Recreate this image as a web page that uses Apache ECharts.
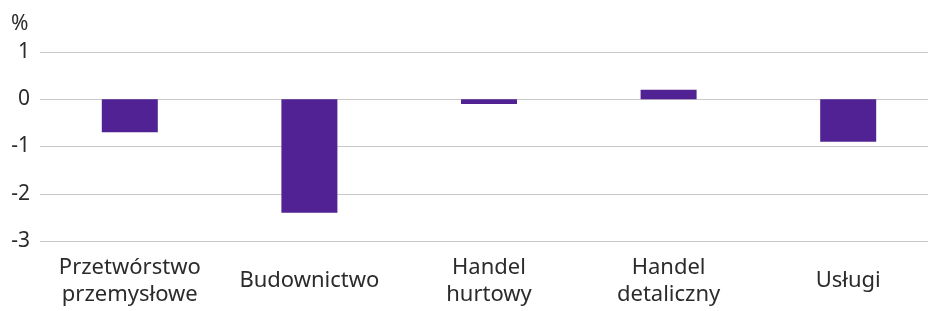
<!DOCTYPE html>
<html>
<head>
<meta charset="utf-8">
<script src="https://cdn.jsdelivr.net/npm/echarts@6/dist/echarts.min.js"></script>
<style>
  html, body { margin: 0; padding: 0; background: #fff; }
  #chart { width: 928px; height: 311px; }
</style>
</head>
<body>
<div id="chart"></div>
<script>
// kategorie i wartości (%)
var categories = ['Przetwórstwo\nprzemysłowe', 'Budownictwo', 'Handel\nhurtowy', 'Handel\ndetaliczny', 'Usługi']
var values = [-0.7, -2.4, -0.1, 0.2, -0.9]
var yTicks = { min: -3, max: 1, interval: 1 }

var chart = echarts.init(document.getElementById('chart'))
chart.setOption({
  animation: false,
  textStyle: { fontFamily: 'Noto Sans' },
  title: {
    text: '%',
    left: 6,
    top: 9,
    textStyle: { fontSize: 21, fontWeight: 'normal', color: '#2b2b2b', fontFamily: 'Noto Sans' }
  },
  grid: {
    left: 40,
    top: 52,
    width: 898,
    height: 189,
    outerBoundsMode: 'none'
  },
  xAxis: {
    type: 'category',
    data: categories,
    axisLine: { show: false },
    axisTick: { show: false },
    axisLabel: {
      color: '#2b2b2b',
      fontSize: 22,
      lineHeight: 27,
      verticalAlign: 'middle',
      margin: 40,
      interval: 0
    }
  },
  yAxis: {
    type: 'value',
    min: yTicks.min,
    max: yTicks.max,
    interval: yTicks.interval,
    axisLine: { show: false },
    axisTick: { show: false },
    splitLine: { lineStyle: { color: '#c8c8c8', width: 1.2 } },
    axisLabel: {
      color: '#2b2b2b',
      fontSize: 21,
      margin: 10
    }
  },
  series: [
    {
      type: 'bar',
      data: values,
      barWidth: 56,
      itemStyle: { color: '#512293' }
    }
  ]
})
</script>
</body>
</html>
